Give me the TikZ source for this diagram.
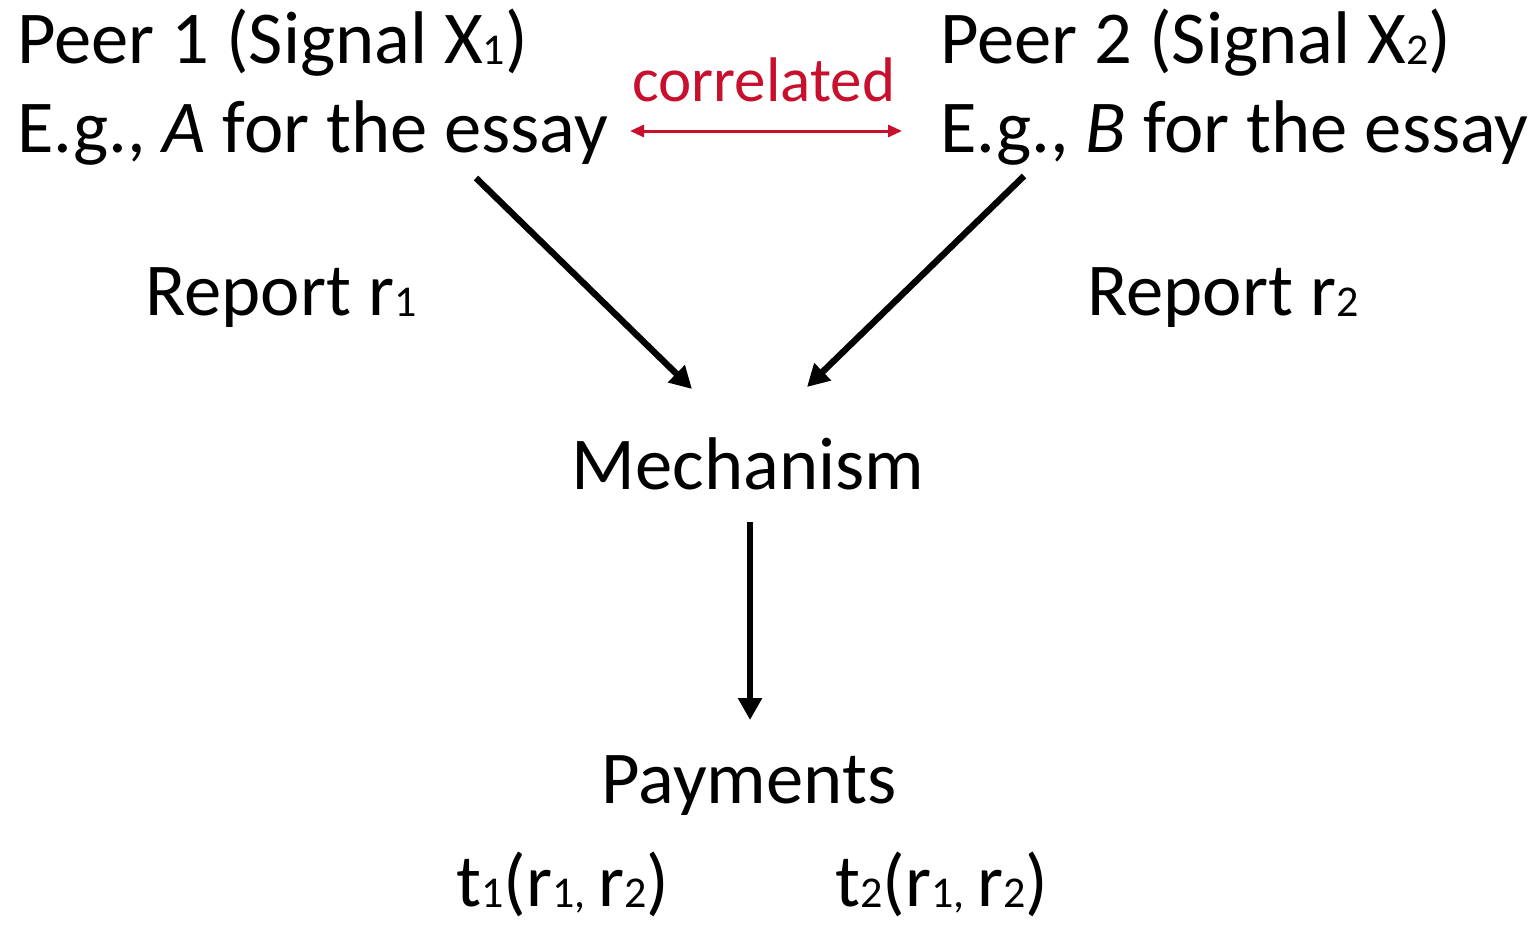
\documentclass[tikz,border=0pt]{standalone}
\usepackage{fontspec}
\setmainfont{Carlito}
\usepackage{xcolor}
\usetikzlibrary{arrows.meta}
\definecolor{corrred}{RGB}{200,16,46}
\newcommand{\sub}[1]{\raisebox{-0.5pt}{\fontsize{22}{22}\selectfont #1}}

\begin{document}
\begin{tikzpicture}[x=0.5pt,y=-0.5pt,
	txt/.style={inner sep=0pt, font=\fontsize{37.3}{44}\selectfont},
	flow/.style={line width=3.2pt, -{Triangle[width=11.5pt,length=11pt]}}]
	\useasboundingbox (0,0) rectangle (1540,926);
	% peers
	\node [txt, anchor=base west] (peerA) at (17,63) {Peer 1 (Signal X\sub{1})};
	\node [txt, anchor=base west] (exA) at (17,152) {E.g., \textit{A} for the essay};
	\node [txt, anchor=base west] (peerB) at (940,63) {Peer 2 (Signal X\sub{2})};
	\node [txt, anchor=base west] (exB) at (940,152) {E.g., \textit{B} for the essay};
	% correlated
	\node [inner sep=0pt, anchor=base west, text=corrred, font=\fontsize{31.5}{36}\selectfont] (corr) at (632,101) {correlated};
	\coordinate (cl) at (630,131);
	\coordinate (cr) at (902,131);
	\draw [corrred, line width=1.5pt, {Triangle[width=6pt,length=7pt]}-{Triangle[width=6pt,length=7pt]}] (cl) -- (cr);
	% reports
	\node [txt, anchor=base west] (repA) at (145,315) {Report r\sub{1}};
	\node [txt, anchor=base west] (repB) at (1087,315) {Report r\sub{2}};
	% mechanism and payments
	\node [txt, anchor=base] (mech) at (748,489) {Mechanism};
	\node [txt, anchor=base] (pay) at (749,803) {Payments};
	\node [txt, anchor=base west] (tA) at (456,906) {t\sub{1}(r\sub{1,}\,r\sub{2})};
	\node [txt, anchor=base west] (tB) at (835,906) {t\sub{2}(r\sub{1,}\,r\sub{2})};
	% arrows
	\coordinate (a1) at (476,178);
	\coordinate (a2) at (692,389);
	\coordinate (b1) at (1024,176);
	\coordinate (b2) at (807,387);
	\coordinate (m1) at (750,522);
	\coordinate (m2) at (750,720);
	\draw [flow] (a1) -- (a2);
	\draw [flow] (b1) -- (b2);
	\draw [flow] (m1) -- (m2);
\end{tikzpicture}
\end{document}
